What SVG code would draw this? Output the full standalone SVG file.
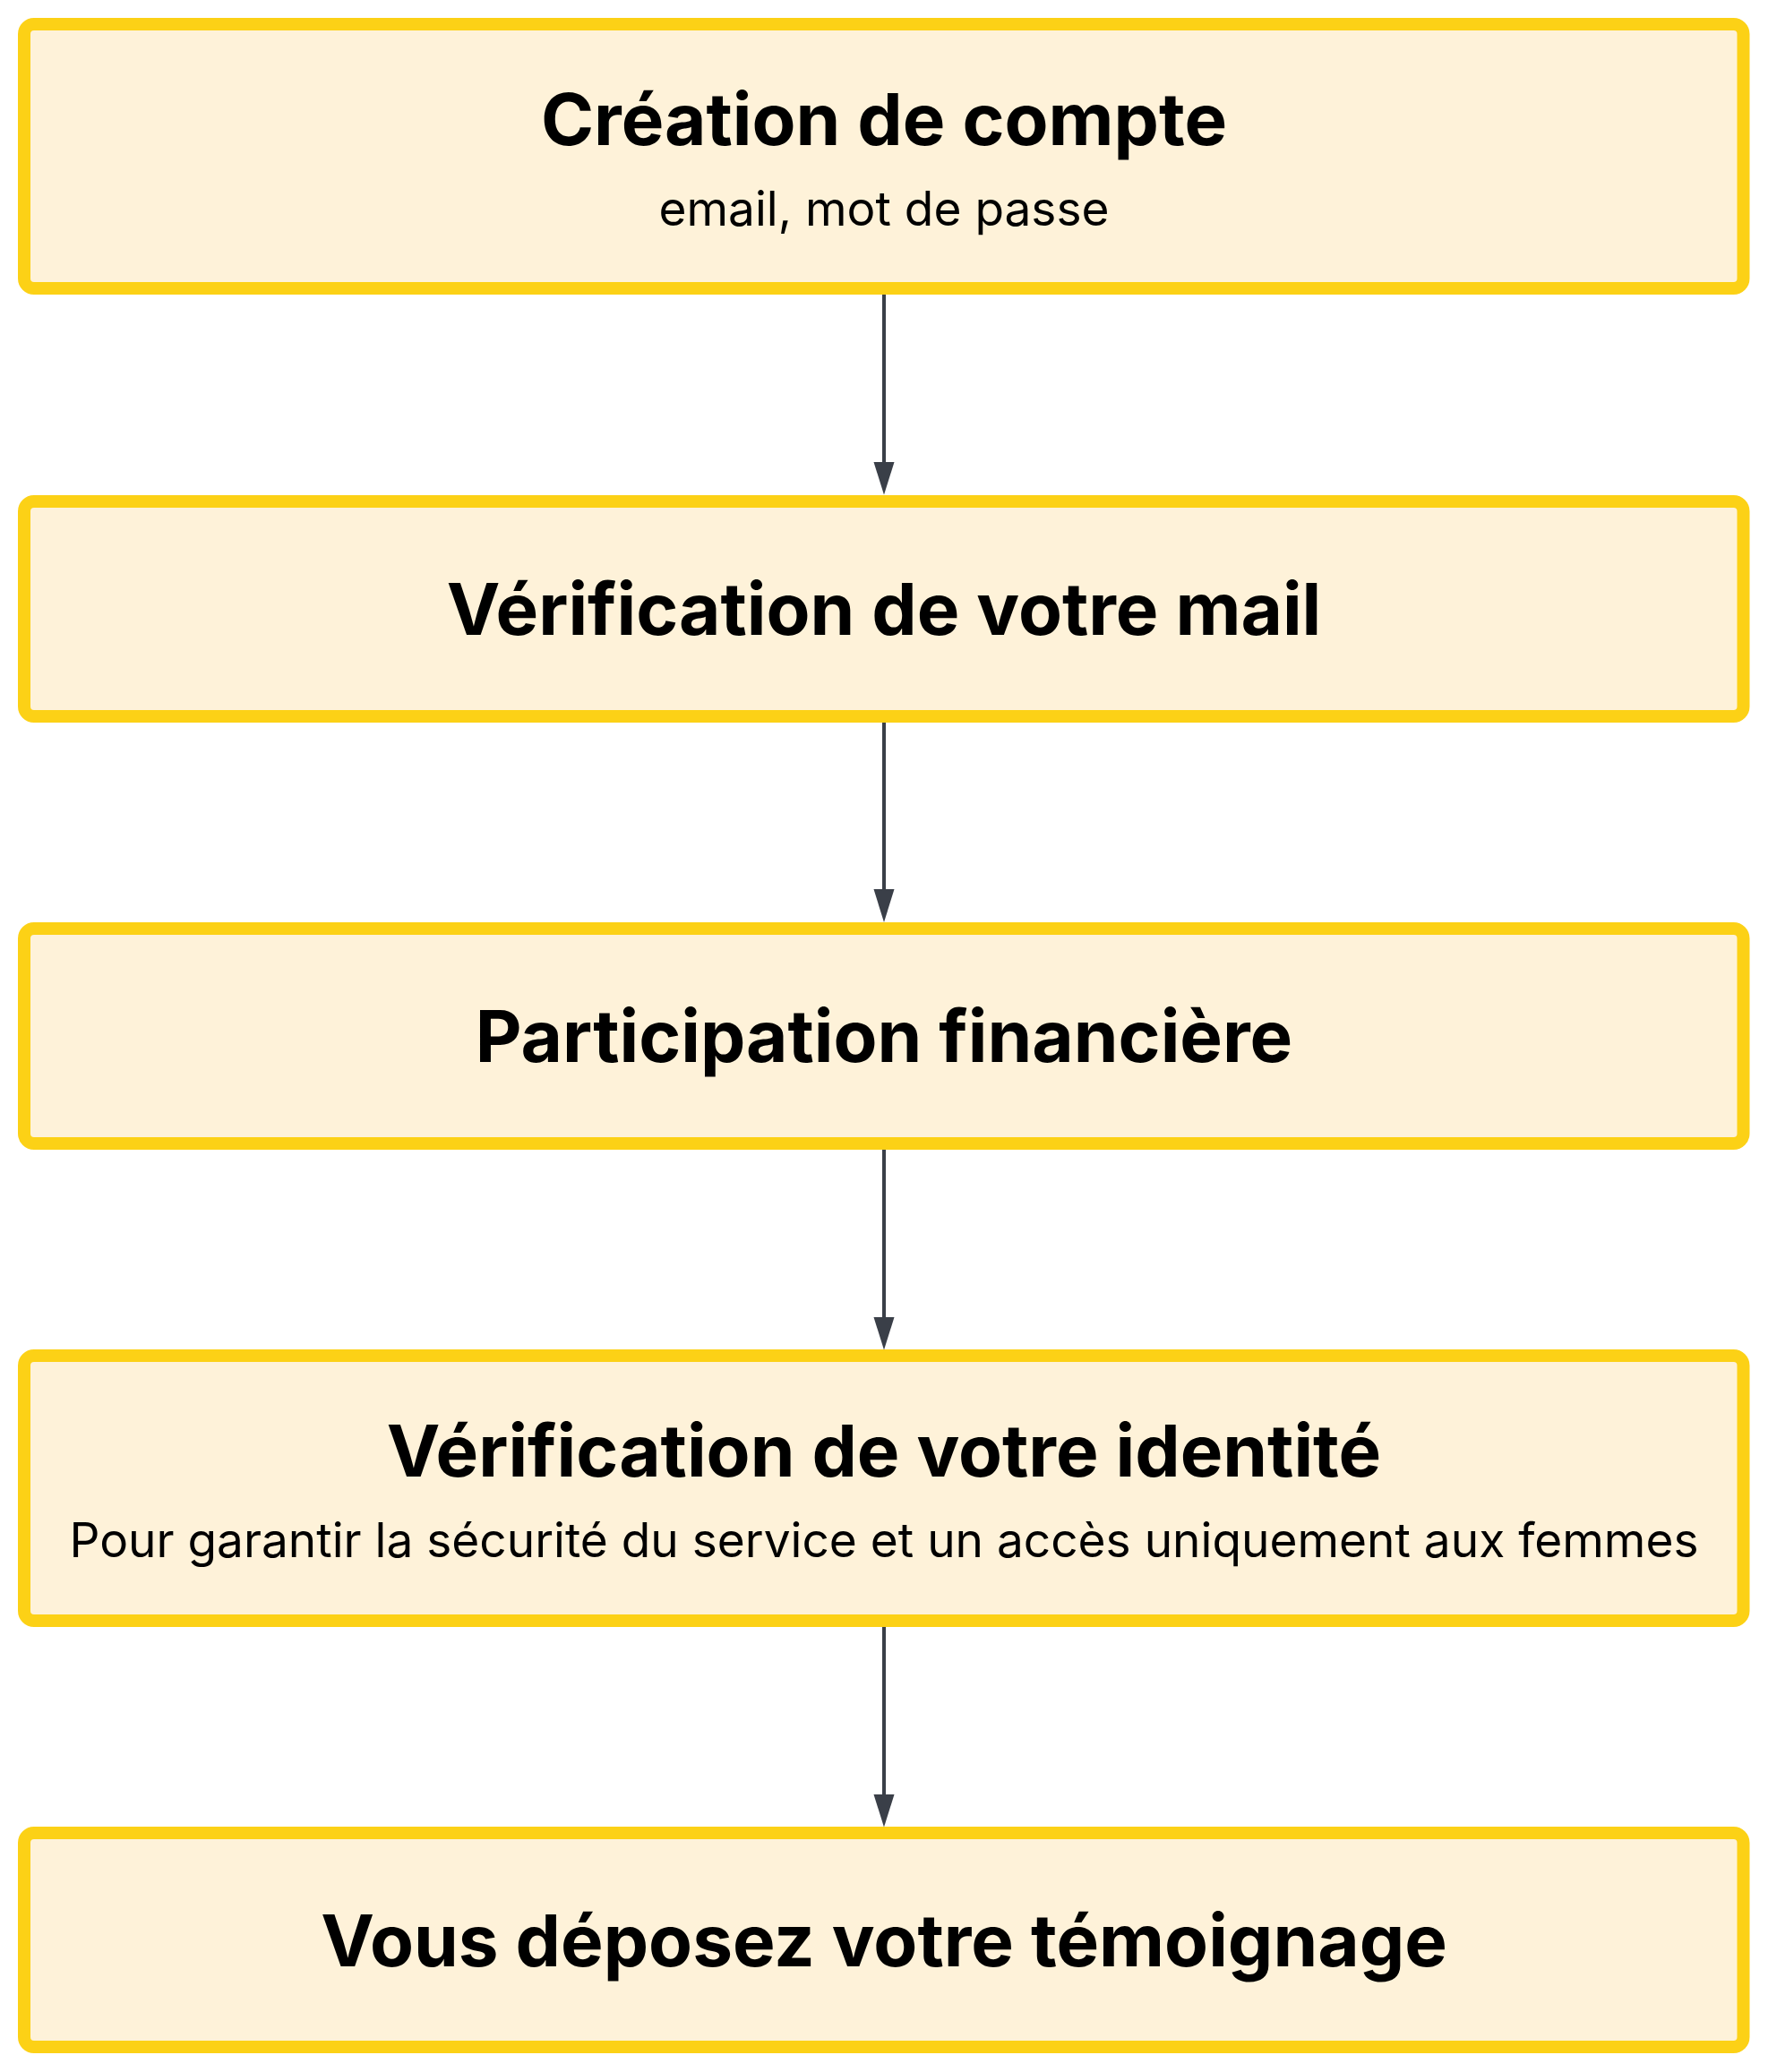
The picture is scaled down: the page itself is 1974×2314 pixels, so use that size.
<svg xmlns="http://www.w3.org/2000/svg" width="1974" height="2314" viewBox="0 0 1974 2314">
<style>
.box{fill:#FEF2D9;stroke:#FCD116;stroke-width:14}
.t{font-family:Inter,"Noto Sans","Liberation Sans",sans-serif;font-weight:700;font-size:80px;fill:#000;text-anchor:middle}
.s{font-family:Inter,"Noto Sans","Liberation Sans",sans-serif;font-weight:400;font-size:53.2px;fill:#000;text-anchor:middle}
.edge{stroke:#3A3F48;stroke-width:4;fill:none}
.head{fill:#3A3F48}
</style>
<rect width="1974" height="2314" fill="#FFFFFF"/>
<g id="n1">
<rect class="box" x="27" y="27" width="1919.5" height="295" rx="11"/>
<text class="t" x="987" y="162">Création de compte</text>
<text class="s" x="987" y="252">email, mot de passe</text>
</g>
<g id="n2">
<rect class="box" x="27" y="560" width="1919.5" height="240" rx="11"/>
<text class="t" x="987" y="709">Vérification de votre mail</text>
</g>
<g id="n3">
<rect class="box" x="27" y="1037" width="1919.5" height="240" rx="11"/>
<text class="t" x="987" y="1186">Participation financière</text>
</g>
<g id="n4">
<rect class="box" x="27" y="1514" width="1919.5" height="296" rx="11"/>
<text class="t" x="987" y="1649">Vérification de votre identité</text>
<text class="s" x="987" y="1739">Pour garantir la sécurité du service et un accès uniquement aux femmes</text>
</g>
<g id="n5">
<rect class="box" x="27" y="2047" width="1919.5" height="239" rx="11"/>
<text class="t" x="987" y="2196">Vous déposez votre témoignage</text>
</g>
<g id="edges">
<line class="edge" x1="987" y1="329" x2="987" y2="518"/>
<polygon class="head" points="975.5,516 998.5,516 987,552.5"/>
<line class="edge" x1="987" y1="807" x2="987" y2="995"/>
<polygon class="head" points="975.5,993 998.5,993 987,1030"/>
<line class="edge" x1="987" y1="1284" x2="987" y2="1473"/>
<polygon class="head" points="975.5,1471 998.5,1471 987,1507.5"/>
<line class="edge" x1="987" y1="1817" x2="987" y2="2006"/>
<polygon class="head" points="975.5,2004 998.5,2004 987,2040.5"/>
</g>
</svg>
